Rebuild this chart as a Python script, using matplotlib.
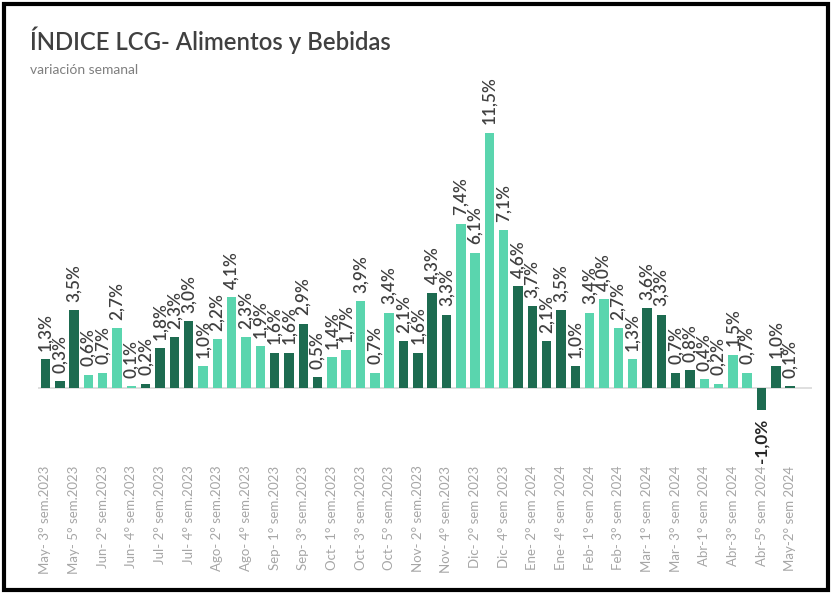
import numpy as np
import matplotlib.pyplot as plt
from matplotlib.patches import Rectangle

plt.rcParams['font.family'] = ['Lato', 'DejaVu Sans']

# semanas (una categoria por barra)
semanas = [
    'May- 3° sem.2023', 'May- 4° sem.2023', 'May- 5° sem.2023',
    'Jun- 1° sem.2023', 'Jun- 2° sem.2023', 'Jun- 3° sem.2023', 'Jun- 4° sem.2023',
    'Jul- 1° sem.2023', 'Jul- 2° sem.2023', 'Jul- 3° sem.2023', 'Jul- 4° sem.2023',
    'Ago- 1° sem.2023', 'Ago- 2° sem.2023', 'Ago- 3° sem.2023', 'Ago- 4° sem.2023', 'Ago- 5° sem.2023',
    'Sep- 1° sem.2023', 'Sep- 2° sem.2023', 'Sep- 3° sem.2023', 'Sep- 4° sem.2023',
    'Oct- 1° sem.2023', 'Oct- 2° sem.2023', 'Oct- 3° sem.2023', 'Oct- 4° sem.2023', 'Oct- 5° sem.2023',
    'Nov- 1° sem.2023', 'Nov- 2° sem.2023', 'Nov- 3° sem.2023', 'Nov- 4° sem.2023',
    'Dic- 1° sem 2023', 'Dic- 2° sem 2023', 'Dic- 3° sem 2023', 'Dic- 4° sem 2023',
    'Ene- 1° sem 2024', 'Ene- 2° sem 2024', 'Ene- 3° sem 2024', 'Ene- 4° sem 2024', 'Ene- 5° sem 2024',
    'Feb- 1° sem 2024', 'Feb- 2° sem 2024', 'Feb- 3° sem 2024', 'Feb- 4° sem 2024',
    'Mar- 1° sem 2024', 'Mar- 2° sem 2024', 'Mar- 3° sem 2024', 'Mar- 4° sem 2024',
    'Abr-1° sem 2024', 'Abr-2° sem 2024', 'Abr-3° sem 2024', 'Abr-4° sem 2024', 'Abr-5° sem 2024',
    'May-1° sem 2024', 'May-2° sem 2024',
]

variacion = [
    1.3, 0.3, 3.5,
    0.6, 0.7, 2.7, 0.1,
    0.2, 1.8, 2.3, 3.0,
    1.0, 2.2, 4.1, 2.3, 1.9,
    1.6, 1.6, 2.9, 0.5,
    1.4, 1.7, 3.9, 0.7, 3.4,
    2.1, 1.6, 4.3, 3.3,
    7.4, 6.1, 11.5, 7.1,
    4.6, 3.7, 2.1, 3.5, 1.0,
    3.4, 4.0, 2.7, 1.3,
    3.6, 3.3, 0.7, 0.8,
    0.4, 0.2, 1.5, 0.7, -1.0,
    1.0, 0.1,
]

# 'o' = verde oscuro, 'c' = verde claro
tono = list('ooo' + 'cccc' + 'oooo' + 'ccccc' + 'oooo' + 'ccccc' + 'oooo'
            + 'cccc' + 'ooooo' + 'cccc' + 'oooo' + 'cccc' + 'ooo')

oscuro = '#1d6b50'
claro = '#5ad5ae'
colores = [oscuro if t == 'o' else claro for t in tono]

fig = plt.figure(figsize=(8.31, 5.95), dpi=100)
ax = fig.add_axes([0.0461, 0.2269, 0.9306, 0.647])

x = np.arange(len(variacion))
ax.bar(x, variacion, width=0.66, color=colores, zorder=2)
ax.axhline(0, color='#d9d9d9', linewidth=1.2, zorder=1)

for xi, v in zip(x, variacion):
    txt = f'{v:.1f}%'.replace('.', ',')
    if v >= 0:
        ax.annotate(txt, (xi, v), xytext=(0, 6), textcoords='offset points',
                    rotation=90, ha='center', va='bottom', fontsize=12.3,
                    color='#404040', fontweight='semibold')
    else:
        ax.annotate(txt, (xi, v), xytext=(0, -6), textcoords='offset points',
                    rotation=90, ha='center', va='top', fontsize=12.3,
                    color='#262626', fontweight='bold')

ax.set_xlim(-0.5, 53.5)
ax.set_ylim(-3.24, 14.1)
ax.set_xticks(x[::2])
ax.set_xticklabels(semanas[::2], rotation=90, fontsize=9.5, color='#a6a6a6')
ax.tick_params(axis='x', length=0, pad=4)
ax.set_yticks([])
for s in ax.spines.values():
    s.set_visible(False)

fig.text(0.036, 0.916, 'ÍNDICE LCG- Alimentos y Bebidas', fontsize=17.2,
         color='#404040', fontweight='semibold')
fig.text(0.036, 0.876, 'variación semanal', fontsize=10, color='#7f7f7f')

fig.patches.append(Rectangle((0.0048, 0.0084), 0.991, 0.9857, transform=fig.transFigure,
                             fill=False, edgecolor='black', linewidth=3))

fig.savefig('out.png', dpi=100)
